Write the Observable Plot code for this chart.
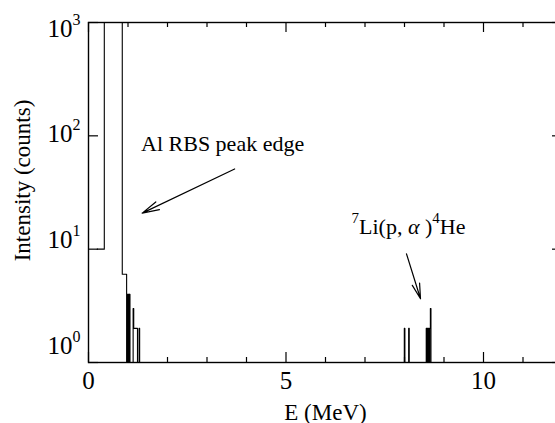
<!DOCTYPE html>
<html><head><meta charset="utf-8">
<script src="https://cdn.jsdelivr.net/npm/d3@7"></script>
<script src="https://cdn.jsdelivr.net/npm/@observablehq/plot@0.6"></script>
<style>
html,body{margin:0;padding:0;background:#fff;overflow:hidden;}
</style></head><body><div id="chart"></div>
<script>
// Spectrum (step-after): energy in MeV where the count value changes, and the counts
// (null = zero counts, not drawable on the log axis)
const spectrumE = [0, 0.22, 0.22, 0.40, 0.855, 0.965, 0.985, 1.00, 1.01, 1.03, 1.035, 1.05,
  1.13, 1.145, 1.24, 1.28, 1.295,
  7.995, 8.01, 8.105, 8.12, 8.55, 8.565, 8.58, 8.595, 8.61, 8.625, 8.64, 8.655, 8.67, 12];
const spectrumCounts = [1, null, 10, 3000, 6, 1, 4, 1, 4, 1, 4, 1,
  3, 2, 1, 2, 1,
  2, 1, 2, 1, 2, 1, 2, 1, 2, 1, 2, 3, 1, 1];

// Axis ticks
const xMajorTicks = [0, 5, 10];
const xMinorTicks = [1, 2, 3, 4, 6, 7, 8, 9, 11];
const yMajorTicks = [1, 10, 100, 1000];

// Annotations (data coordinates)
const annoLabels = ["Al RBS peak edge", "7Li(p, α)4He"];
const annoE = [1.33, 6.66];
const annoCounts = [74, 13.5];
const arrowFromE = [3.70, 8.05];
const arrowFromC = [51, 9.1];
const arrowToE = [1.36, 8.405];
const arrowToC = [20.8, 3.65];

const spectrum = [];
spectrumE.forEach((e, i) => {
  if (spectrumCounts[i] === null) spectrum.push({E: e, C: spectrumCounts[i - 1]});
  spectrum.push({E: e, C: spectrumCounts[i]});
});
const annos = annoLabels.map((l, i) => ({label: l, E: annoE[i], C: annoCounts[i]}));
const arrows = arrowFromE.map((e, i) => ({x1: e, y1: arrowFromC[i], x2: arrowToE[i], y2: arrowToC[i]}));

const font = "Liberation Serif";
const svg = Plot.plot({
  width: 555, height: 423,
  marginLeft: 88, marginRight: -7, marginTop: 22, marginBottom: 61,
  style: "background: white; overflow: hidden; font-family: 'Liberation Serif', serif;",
  x: {domain: [0, 12], axis: null},
  y: {type: "log", domain: [1, 1000], axis: null},
  marks: [
    Plot.line(spectrum, {x: "E", y: "C", curve: "step-after", stroke: "black", strokeWidth: 1.1, clip: true}),
    Plot.frame({stroke: "black", strokeWidth: 1.4}),
    Plot.tickX(xMajorTicks, {x: d => d, insetTop: 330, stroke: "black", strokeWidth: 1.2}),
    Plot.tickX(xMinorTicks, {x: d => d, insetTop: 335, stroke: "black", strokeWidth: 1.2}),
    Plot.tickX(xMajorTicks, {x: d => d, insetBottom: 330, stroke: "black", strokeWidth: 1.2}),
    Plot.tickX(xMinorTicks, {x: d => d, insetBottom: 335, stroke: "black", strokeWidth: 1.2}),
    Plot.tickY(yMajorTicks, {y: d => d, insetRight: 464, stroke: "black", strokeWidth: 1.2}),
    Plot.tickY(yMajorTicks, {y: d => d, insetLeft: 464, stroke: "black", strokeWidth: 1.2}),
    Plot.text(xMajorTicks, {x: d => d, text: d => String(d), frameAnchor: "bottom", dy: 26, lineAnchor: "bottom", fontSize: 25, fontFamily: font, fill: "black"}),
    ...yMajorTicks.map(v => Plot.text([v], {y: d => d, text: d => "10^" + Math.round(Math.log10(d)), frameAnchor: "left", dx: -8, dy: -9 + 7.7 * Math.log10(v), textAnchor: "end", lineAnchor: "bottom", fontSize: 25, fontFamily: font, fill: "black", className: "ylab"})),
    Plot.text(["E (MeV)"], {text: d => d, frameAnchor: "bottom", dy: 57, lineAnchor: "bottom", fontSize: 23, fontFamily: font, fill: "black"}),
    Plot.text(["Intensity (counts)"], {text: d => d, frameAnchor: "left", dx: -59, dy: -12, rotate: -90, textAnchor: "middle", lineAnchor: "bottom", fontSize: 23, fontFamily: font, fill: "black"}),
    Plot.text(annos.slice(0, 1), {x: "E", y: "C", text: "label", textAnchor: "start", lineAnchor: "bottom", fontSize: 22, fontFamily: font, fill: "black"}),
    Plot.text(annos.slice(1), {x: "E", y: "C", text: "label", textAnchor: "start", lineAnchor: "bottom", fontSize: 22, fontFamily: font, fill: "black", className: "lilab"}),
    Plot.arrow(arrows, {x1: "x1", y1: "y1", x2: "x2", y2: "y2", stroke: "black", strokeWidth: 1.2, headLength: 22, headAngle: 28})
  ]
});
svg.setAttribute("font-family", font);

const NS = "http://www.w3.org/2000/svg";
function ts(txt, attrs) {
  const t = document.createElementNS(NS, "tspan");
  for (const k in attrs) t.setAttribute(k, attrs[k]);
  t.textContent = txt;
  return t;
}
svg.querySelectorAll("g.ylab text").forEach(t => {
  const [b, e] = t.textContent.split("^");
  t.textContent = "";
  t.appendChild(ts(b, {}));
  t.appendChild(ts(e, {dy: "-12", "font-size": "16"}));
});
svg.querySelectorAll("g.lilab text").forEach(t => {
  t.textContent = "";
  t.appendChild(ts("7", {dy: "-11", "font-size": "15"}));
  t.appendChild(ts("Li(p, ", {dy: "11"}));
  t.appendChild(ts("α", {"font-style": "italic"}));
  t.appendChild(ts(" )", {}));
  t.appendChild(ts("4", {dy: "-11", "font-size": "15"}));
  t.appendChild(ts("He", {dy: "11"}));
});
// force the serif font on every text node with inline styles
svg.querySelectorAll("text, tspan").forEach(t => {
  t.style.setProperty("font-family", "'Liberation Serif', serif", "important");
  t.setAttribute("font-family", font);
});
document.getElementById("chart").appendChild(svg);
</script></body></html>
